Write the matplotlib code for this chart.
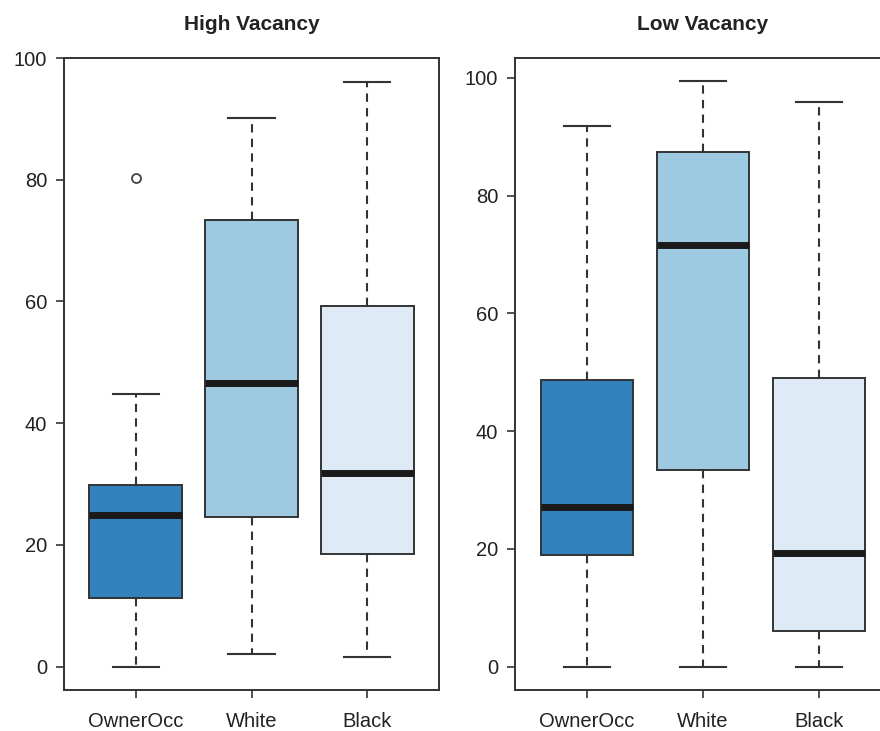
import matplotlib.pyplot as plt
import numpy as np

plt.rcParams['font.family'] = ['Liberation Sans', 'DejaVu Sans']

groups = ['OwnerOcc', 'White', 'Black']
fill_colors = ['#3182BD', '#9ECAE1', '#DEEBF7']

# five-number summaries per group: low whisker, Q1, median, Q3, high whisker
high_lo = [0.0, 2.1, 1.6]
high_q1 = [11.2, 24.6, 18.5]
high_med = [24.9, 46.6, 31.8]
high_q3 = [29.9, 73.4, 59.3]
high_hi = [44.8, 90.2, 96.1]
high_out = [[80.3], [], []]

low_lo = [0.0, 0.0, 0.0]
low_q1 = [19.0, 33.4, 6.1]
low_med = [27.1, 71.6, 19.3]
low_q3 = [48.7, 87.4, 49.0]
low_hi = [91.8, 99.4, 95.9]
low_out = [[], [], []]

edge = '#333333'


def make_stats(lo, q1, med, q3, hi, out):
    return [dict(whislo=a, q1=b, med=c, q3=d, whishi=e, fliers=f, label=g)
            for a, b, c, d, e, f, g in zip(lo, q1, med, q3, hi, out, groups)]


def draw_panel(ax, stats, title):
    bp = ax.bxp(stats, positions=[1, 2, 3], widths=0.8, capwidths=0.4,
                patch_artist=True,
                boxprops=dict(edgecolor=edge, linewidth=1.4),
                medianprops=dict(color='#1a1a1a', linewidth=5.0, solid_capstyle='butt'),
                whiskerprops=dict(color=edge, linewidth=1.5, linestyle=(0, (4.0, 3.0))),
                capprops=dict(color=edge, linewidth=1.5),
                flierprops=dict(marker='o', markersize=6.5, markerfacecolor='white',
                                markeredgecolor='#444444', markeredgewidth=1.3))
    for patch, c in zip(bp['boxes'], fill_colors):
        patch.set_facecolor(c)

    # R-style axis limits: data range padded by 4 percent
    vals = [s['whislo'] for s in stats] + [s['whishi'] for s in stats]
    vals += [v for s in stats for v in s['fliers']]
    lo, hi = min(vals), max(vals)
    pad = 0.04 * (hi - lo)
    ax.set_ylim(lo - pad, hi + pad)
    ax.set_xlim(0.5 - 0.12, 3.5 + 0.12)

    ax.set_yticks(np.arange(0, 101, 20))
    ax.set_xticks([1, 2, 3])
    ax.set_xticklabels(groups)
    for sp in ax.spines.values():
        sp.set_color(edge)
        sp.set_linewidth(1.4)
    ax.tick_params(axis='both', direction='out', length=6, width=1.2,
                   colors=edge, labelcolor='#222222', labelsize=14.5)
    ax.tick_params(axis='x', pad=10)
    ax.tick_params(axis='y', pad=6)
    ax.set_title(title, fontsize=15, fontweight='bold', pad=20, color='#222222')


fig = plt.figure(figsize=(8.8, 7.31), dpi=100)
ax1 = fig.add_axes([64 / 880, 41 / 731, 375 / 880, 632 / 731])
ax2 = fig.add_axes([515 / 880, 41 / 731, 376 / 880, 632 / 731])

draw_panel(ax1, make_stats(high_lo, high_q1, high_med, high_q3, high_hi, high_out), 'High Vacancy')
draw_panel(ax2, make_stats(low_lo, low_q1, low_med, low_q3, low_hi, low_out), 'Low Vacancy')

fig.savefig('out.png', dpi=100)
